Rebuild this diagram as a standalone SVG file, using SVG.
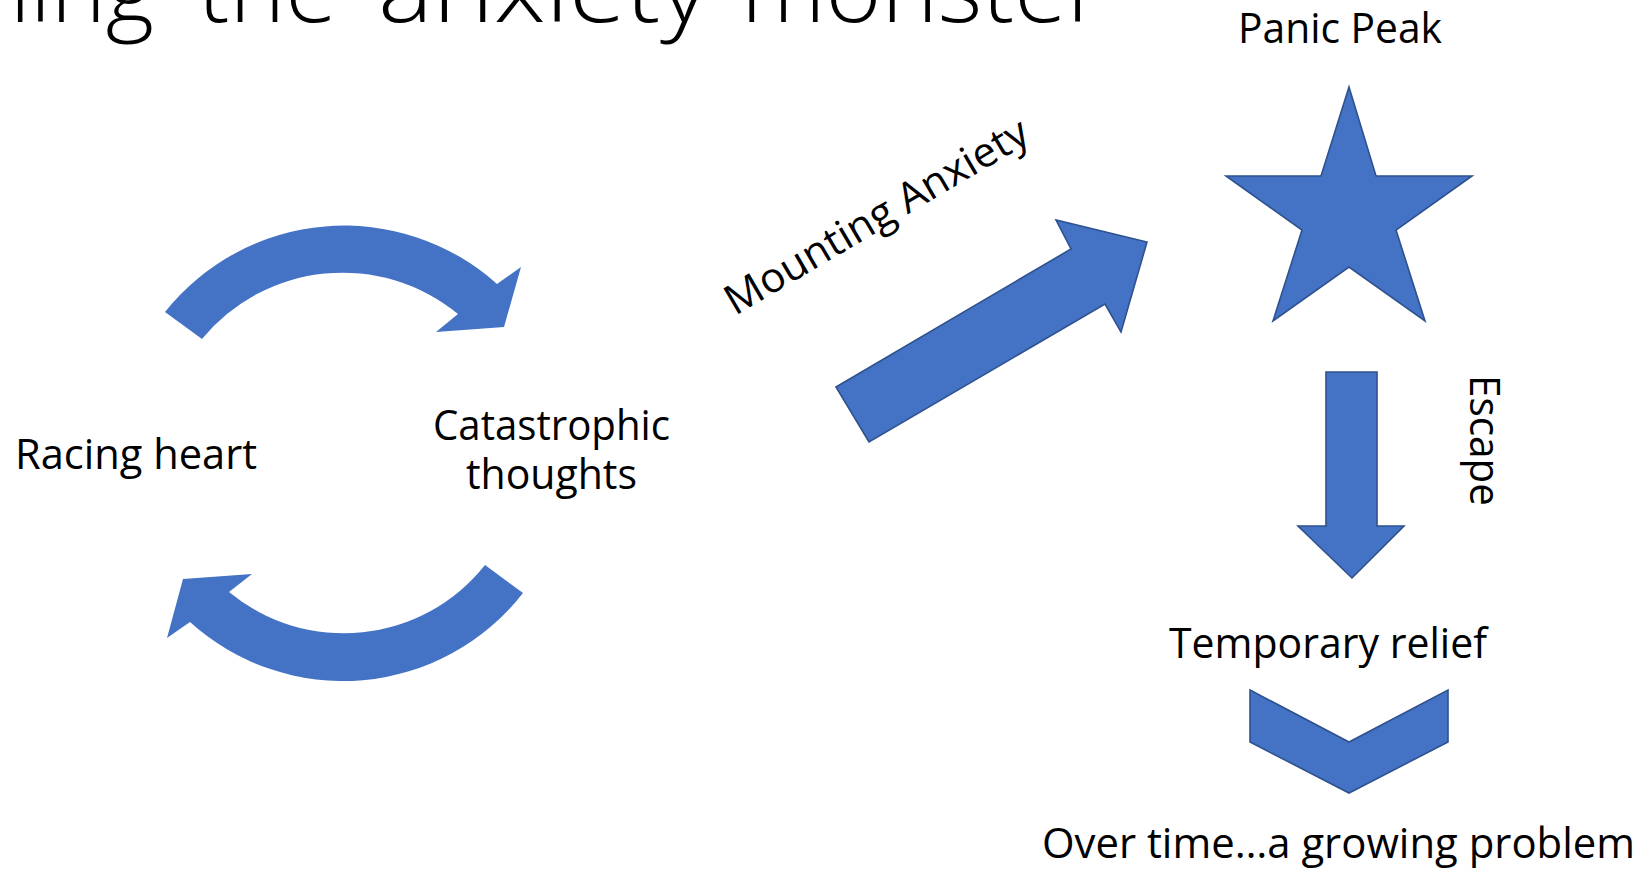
<svg xmlns="http://www.w3.org/2000/svg" width="1642" height="869" viewBox="0 0 1642 869">
  <style>
    .lbl { font-family: "Open Sans", "Liberation Sans", sans-serif; font-size: 41.5px; fill: #000000; }
    .title { font-family: "Open Sans", "Liberation Sans", sans-serif; font-weight: 300; font-size: 92px; fill: #000000; }
    .shape { fill: #4472C4; stroke: #2F528F; stroke-width: 1.6; stroke-linejoin: miter; }
    .flat { fill: #4472C4; stroke: none; }
  </style>
  <rect x="0" y="0" width="1642" height="869" fill="#FFFFFF"/>

  <g id="title">
    <text class="title" y="22"><tspan x="-150" textLength="304" lengthAdjust="spacingAndGlyphs">Taming</tspan><tspan x="198" textLength="139" lengthAdjust="spacingAndGlyphs">the</tspan><tspan x="378" textLength="330" lengthAdjust="spacingAndGlyphs">anxiety</tspan><tspan x="741" textLength="363" lengthAdjust="spacingAndGlyphs">monster</tspan></text>
  </g>

  <g id="connectors">
    <path id="cycle-top" class="flat" d="M 165,312 A 229 229 0 0 1 497,284 L 521,267 L 504,327 L 436,332 L 458,314 A 182 182 0 0 0 202,339 Z"/>
    <path id="cycle-bottom" class="flat" d="M 523,593 A 228 228 0 0 1 190,622 L 167,638 L 183,579 L 252,574 L 229,592 A 180 180 0 0 0 485,565 Z"/>
    <path id="mounting-arrow" class="shape" d="M 836,387 L 1071,249 L 1056,220 L 1147,242 L 1121,332 L 1105,304 L 869,442 Z"/>
    <path id="escape-arrow" class="shape" d="M 1326,372 L 1377,372 L 1377,526 L 1404,526 L 1352,578 L 1298,526 L 1326,526 Z"/>
    <path id="growing-chevron" class="shape" d="M 1250,690 L 1349,742 L 1448,690 L 1448,742 L 1349,793 L 1250,742 Z"/>
  </g>

  <g id="racing-heart">
    <text class="lbl" x="15" y="469" textLength="242" lengthAdjust="spacingAndGlyphs">Racing heart</text>
  </g>

  <g id="catastrophic-thoughts">
    <text class="lbl" x="433" y="440" textLength="237" lengthAdjust="spacingAndGlyphs">Catastrophic</text>
    <text class="lbl" x="466" y="489" textLength="171" lengthAdjust="spacingAndGlyphs">thoughts</text>
  </g>

  <g id="mounting-anxiety">
    <text class="lbl" transform="translate(735,316) rotate(-30.5)" x="0" y="0" textLength="345" lengthAdjust="spacingAndGlyphs">Mounting Anxiety</text>
  </g>

  <g id="panic-peak">
    <text class="lbl" x="1238" y="43" textLength="204" lengthAdjust="spacingAndGlyphs">Panic Peak</text>
    <path class="shape" d="M 1349,87 L 1376,176 L 1472,176 L 1396,230 L 1425,321 L 1349,267 L 1273,321 L 1302,230 L 1226,176 L 1321,176 Z"/>
  </g>

  <g id="escape">
    <text class="lbl" transform="translate(1470,375) rotate(90)" x="0" y="0" textLength="131" lengthAdjust="spacingAndGlyphs">Escape</text>
  </g>

  <g id="temporary-relief">
    <text class="lbl" x="1169" y="658" textLength="318" lengthAdjust="spacingAndGlyphs">Temporary relief</text>
  </g>

  <g id="growing-problem">
    <text class="lbl" x="1042" y="858" textLength="593" lengthAdjust="spacingAndGlyphs">Over time…a growing problem</text>
  </g>
</svg>
